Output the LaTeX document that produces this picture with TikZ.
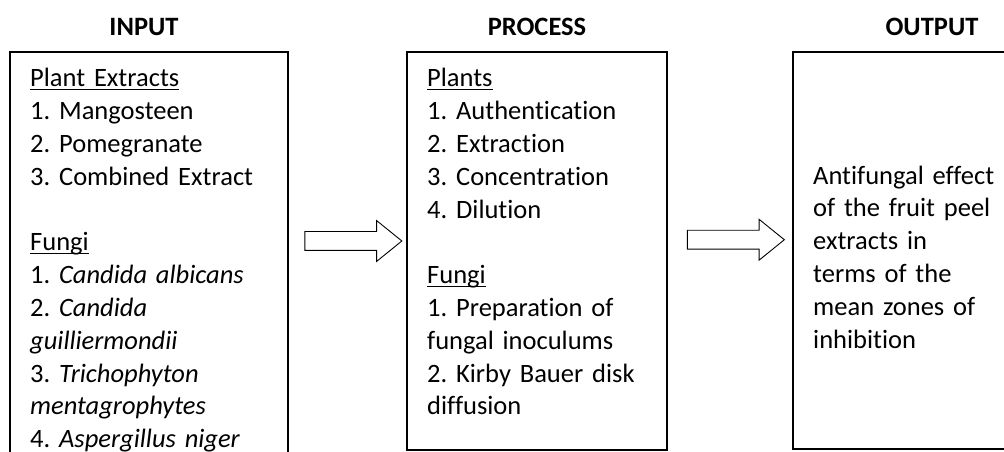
\documentclass[tikz,border=0pt]{standalone}
\usepackage{fontspec}
\setmainfont{Carlito}[Ligatures=NoCommon]
\usetikzlibrary{calc}
\usetikzlibrary{positioning}
\usetikzlibrary{shapes.arrows}

\newsavebox\hdbox
\newcommand{\hdline}[1]{\leavevmode\sbox\hdbox{#1}\rlap{\rule[-3pt]{\wd\hdbox}{1.2pt}}\usebox\hdbox}

\begin{document}
\frenchspacing
\begin{tikzpicture}[x=1pt,y=1pt,
  box/.style={draw, line width=1.3pt, inner sep=0pt},
  txt/.style={inner sep=0pt, text width=#1, align=left,
    font=\fontsize{26.5}{32.8}\selectfont},
  ttl/.style={inner sep=0pt, anchor=base, font=\fontsize{26.5}{32.8}\selectfont\bfseries},
  blockarrow/.style={single arrow, draw, line width=0.9pt, inner xsep=0pt,
    inner ysep=9pt, single arrow head extend=11pt,
    single arrow tip angle=78, minimum height=97pt}]
  \clip (0,0) rectangle (1004,452);

  \node[box, minimum width=278pt, minimum height=430pt] (IN) at (149,185) {};
  \node[box, minimum width=260pt, minimum height=398pt] (PR) at (537,201) {};
  \node[box, minimum width=278pt, minimum height=397pt] (OUT) at (932,201.5) {};

  \node[ttl] (INt) at (144,416) {INPUT};
  \node[ttl] (PRt) at (537,416) {PROCESS};
  \node[ttl] (OUTt) at (932,416) {OUTPUT};

  \node[blockarrow] (A1) at ($(IN.east |- PR.east)!.5!(PR.west)+(0,10)$) {};
  \node[blockarrow] (A2) at ($(PR.east)!.5!(OUT.west)+(0,11)$) {};

  \node[txt=250pt, anchor=base west] (INx) at (30,365)
    {\hdline{Plant Extracts}\\
     1. Mangosteen\\
     2. Pomegranate\\
     3. Combined Extract\\[32.8pt]
     \hdline{Fungi}\\
     1. \textit{Candida albicans}\\
     2. \textit{Candida}\\
     \textit{guilliermondii}\\
     3. \textit{Trichophyton}\\
     \textit{mentagrophytes}\\
     4. \textit{Aspergillus niger}};

  \node[txt=230pt, anchor=base west] (PRx) at (427,365)
    {\hdline{Plants}\\
     1. Authentication\\
     2. Extraction\\
     3. Concentration\\
     4. Dilution\\[32.8pt]
     \hdline{Fungi}\\
     1. Preparation of\\
     fungal inoculums\\
     2. Kirby Bauer disk\\
     diffusion};

  \node[txt=200pt, anchor=west] (OUTx) at (813,195)
    {Antifungal effect\\
     of the fruit peel\\
     extracts in\\
     terms of the\\
     mean zones of\\
     inhibition};
\end{tikzpicture}
\end{document}
